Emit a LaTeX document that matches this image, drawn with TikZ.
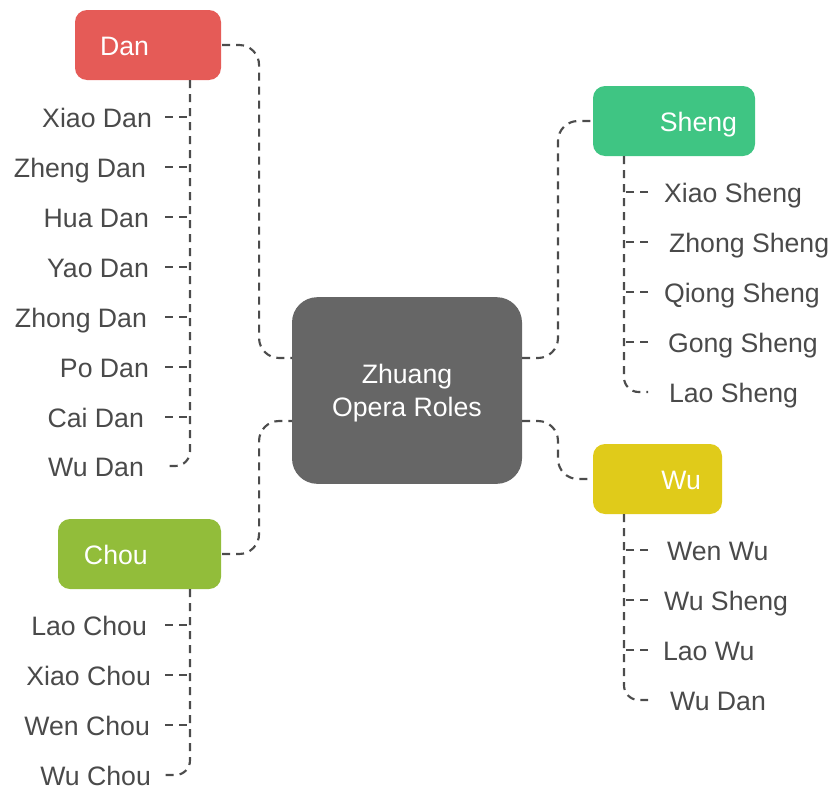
\documentclass[tikz,border=0pt]{standalone}
\usepackage{fontspec}
\setmainfont{Liberation Sans}
\usetikzlibrary{positioning}
\definecolor{dancol}{HTML}{E55B57}
\definecolor{shengcol}{HTML}{3FC583}
\definecolor{wucol}{HTML}{E0CB1A}
\definecolor{choucol}{HTML}{92BD3A}
\definecolor{hubcol}{HTML}{666666}
\definecolor{linecol}{HTML}{4C4C4C}
\definecolor{txtcol}{HTML}{4A4A4A}
\tikzset{every picture/.style={
    every path/.style={line width=1.6pt},
}}
\tikzset{cat/.style = {rounded corners=9pt, minimum height=52.5pt, text height=17pt, text depth=2pt, text=white, font=\fontsize{20}{24.75}\selectfont}}
\tikzset{hub/.style = {fill=hubcol, rounded corners=19pt, minimum width=172.5pt, minimum height=140pt, text=white, align=center, text depth=0pt, font=\fontsize{20}{24.75}\selectfont}}
\tikzset{role/.style = {text=txtcol, inner xsep=11.25pt, text height=17pt, text depth=2pt, font=\fontsize{20}{24.75}\selectfont}}
\tikzset{link/.style = {linecol, dash pattern=on 6pt off 4.5pt, rounded corners=15pt}}
\tikzset{tick/.style = {linecol, dash pattern=on 6pt off 4.5pt}}

\begin{document}
\begin{tikzpicture}[x=0.75pt, y=-0.75pt]
    \useasboundingbox (0,0) rectangle (833,789);

    % centre
    \node[hub] (hub) at (407,390.5) {Zhuang\\Opera Roles};
    \coordinate (hubdan) at (292,358);
    \coordinate (hubchou) at (292,421);
    \coordinate (hubsheng) at (522,358);
    \coordinate (hubwu) at (522,421);

    % role families
    \node[cat, fill=dancol, inner xsep=18.75pt, text width=72pt, align=left] (dan) at (148,45) {Dan};
    \node[cat, fill=choucol, inner xsep=19.5pt, text width=83.25pt, align=left] (chou) at (139.5,554) {Chou};
    \node[cat, fill=shengcol, inner xsep=13.5pt, text width=94.5pt, align=right] (sheng) at (674,121) {Sheng};
    \node[cat, fill=wucol, inner xsep=15.75pt, text width=65.25pt, align=right] (wu) at (657.5,479) {Wu};

    \draw[link] (dan.east) -- ++(37,0) |- (hubdan);
    \draw[link] (chou.east) -- ++(37,0) |- (hubchou);
    \draw[link] (hubsheng) -- ++(36,0) |- (sheng.west);
    \draw[link] (hubwu) -- ++(36,0) |- (wu.west);

    % Dan
    \coordinate (dantrunk) at (190,80);
    \node[role, anchor=east, inner xsep=9pt] (xiaodan) at (165,117) {Xiao Dan};
    \node[role, anchor=east, inner xsep=13.5pt] (zhengdan) at (165,167) {Zheng Dan};
    \node[role, anchor=east] (huadan) at (165,217) {Hua Dan};
    \node[role, anchor=east] (yaodan) at (165,267) {Yao Dan};
    \node[role, anchor=east, inner xsep=12.75pt] (zhongdan) at (165,317) {Zhong Dan};
    \node[role, anchor=east] (podan) at (165,367) {Po Dan};
    \node[role, anchor=east, inner xsep=15pt] (caidan) at (165,417) {Cai Dan};
    \node[role, anchor=east, inner xsep=15pt] (wudan) at (165,466) {Wu Dan};
    \draw[link, rounded corners=11pt] (dantrunk) -- (dantrunk |- wudan.east) -- (wudan.east);
    \draw[tick] (xiaodan.east) -- (xiaodan.east -| dantrunk);
    \draw[tick] (zhengdan.east) -- (zhengdan.east -| dantrunk);
    \draw[tick] (huadan.east) -- (huadan.east -| dantrunk);
    \draw[tick] (yaodan.east) -- (yaodan.east -| dantrunk);
    \draw[tick] (zhongdan.east) -- (zhongdan.east -| dantrunk);
    \draw[tick] (podan.east) -- (podan.east -| dantrunk);
    \draw[tick] (caidan.east) -- (caidan.east -| dantrunk);

    % Chou
    \coordinate (choutrunk) at (190,589);
    \node[role, anchor=east, inner xsep=12.75pt] (laochou) at (165,625) {Lao Chou};
    \node[role, anchor=east, inner xsep=9.75pt] (xiaochou) at (165,675) {Xiao Chou};
    \node[role, anchor=east, inner xsep=10.5pt] (wenchou) at (165,725) {Wen Chou};
    \node[role, anchor=east, inner xsep=9.75pt] (wuchou) at (165,775) {Wu Chou};
    \draw[link, rounded corners=11pt] (choutrunk) -- (choutrunk |- wuchou.east) -- (wuchou.east);
    \draw[tick] (laochou.east) -- (laochou.east -| choutrunk);
    \draw[tick] (xiaochou.east) -- (xiaochou.east -| choutrunk);
    \draw[tick] (wenchou.east) -- (wenchou.east -| choutrunk);

    % Sheng
    \coordinate (shengtrunk) at (624,156);
    \node[role, anchor=west] (xiaosheng) at (648,192) {Xiao Sheng};
    \node[role, anchor=west, inner xsep=15pt] (zhongsheng) at (648,242) {Zhong Sheng};
    \node[role, anchor=west] (qiongsheng) at (648,292) {Qiong Sheng};
    \node[role, anchor=west, inner xsep=14.25pt] (gongsheng) at (648,342) {Gong Sheng};
    \node[role, anchor=west, inner xsep=15pt] (laosheng) at (648,392) {Lao Sheng};
    \draw[link, rounded corners=11pt] (shengtrunk) -- (shengtrunk |- laosheng.west) -- (laosheng.west);
    \draw[tick] (xiaosheng.west) -- (xiaosheng.west -| shengtrunk);
    \draw[tick] (zhongsheng.west) -- (zhongsheng.west -| shengtrunk);
    \draw[tick] (qiongsheng.west) -- (qiongsheng.west -| shengtrunk);
    \draw[tick] (gongsheng.west) -- (gongsheng.west -| shengtrunk);

    % Wu
    \coordinate (wutrunk) at (624,514);
    \node[role, anchor=west, inner xsep=13.5pt] (wenwu) at (648,550) {Wen Wu};
    \node[role, anchor=west] (wusheng) at (648,600) {Wu Sheng};
    \node[role, anchor=west, inner xsep=10.5pt] (laowu) at (648,650) {Lao Wu};
    \node[role, anchor=west, inner xsep=15.75pt] (wuwudan) at (648,700) {Wu Dan};
    \draw[link, rounded corners=11pt] (wutrunk) -- (wutrunk |- wuwudan.west) -- (wuwudan.west);
    \draw[tick] (wenwu.west) -- (wenwu.west -| wutrunk);
    \draw[tick] (wusheng.west) -- (wusheng.west -| wutrunk);
    \draw[tick] (laowu.west) -- (laowu.west -| wutrunk);
\end{tikzpicture}
\end{document}
